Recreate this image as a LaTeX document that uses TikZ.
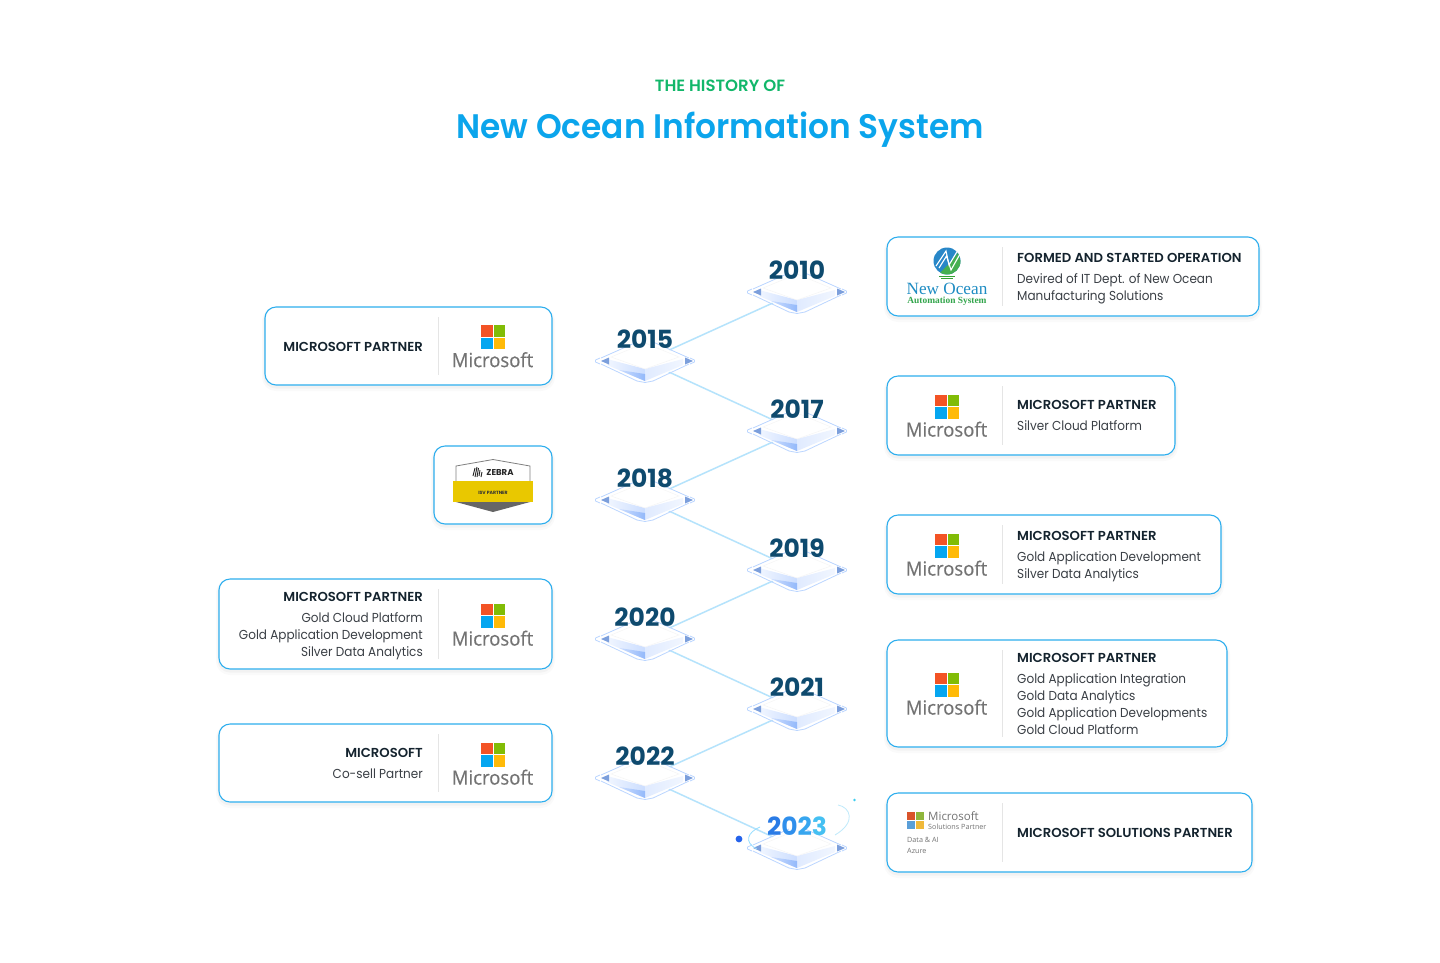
\documentclass[tikz,border=0pt]{standalone}
\usepackage{fontspec}
\setmainfont{Poppins}
\newfontfamily\bodyfont[FakeStretch=.925]{Poppins}
\newfontfamily\semifont[FakeStretch=1.015]{Poppins SemiBold}
\newfontfamily\titlefont[FakeStretch=.965]{Poppins SemiBold}
\newfontfamily\msfont[FakeStretch=.95,FakeBold=.45]{Open Sans}
\newfontfamily\smallms{Open Sans}
\newfontfamily\nofont{Liberation Serif}
\usetikzlibrary{shapes.geometric}
\definecolor{cardline}{HTML}{2DAEEE}
\definecolor{headink}{HTML}{14232E}
\definecolor{bodyink}{HTML}{3A3F45}
\definecolor{yearink}{HTML}{0E4A6E}
\definecolor{linkblue}{HTML}{B5E3FC}
\definecolor{ringblue}{HTML}{BBD6FF}
\definecolor{slabdark}{HTML}{94B9FA}
\definecolor{slabmid}{HTML}{CBDDFF}
\definecolor{slablight}{HTML}{F1F6FF}
\definecolor{arrowblue}{HTML}{7C9FDC}
\definecolor{titleblue}{HTML}{0BA5EC}
\definecolor{titlegreen}{HTML}{12B76A}
\definecolor{msgray}{HTML}{737373}
\tikzset{
  x=1pt,y=-1pt,
  cardbox/.style={rectangle,rounded corners=11pt,draw=cardline,line width=1.1pt,fill=white,inner sep=0pt,
    preaction={draw=black!60,draw opacity=.03,line width=6pt,fill=none,transform canvas={yshift=-3pt}},
    preaction={draw=black!60,draw opacity=.05,line width=3pt,fill=none,transform canvas={yshift=-2pt}}},
  headtext/.style={font=\semifont\fontsize{13}{16}\selectfont,text=headink,inner sep=0pt},
  bodytext/.style={font=\bodyfont\fontsize{13}{17}\selectfont,text=bodyink,inner sep=0pt},
  yeartext/.style={font=\fontsize{25}{25}\selectfont\bfseries,text=yearink,inner sep=0pt},
  stopmark/.style={diamond,aspect=2.33,minimum width=98pt,minimum height=42pt,inner sep=0pt},
  link/.style={draw=linkblue,line width=1.5pt},
  divider/.style={draw=black!10,line width=0.6pt},
  mstext/.style={font=\msfont\fontsize{19.5}{19.5}\selectfont,text=msgray,inner sep=0pt},
}
\newcommand{\slab}[1]{%
  \begin{scope}[shift={(#1)}]
    \fill[white] (-50,0)--(0,-21)--(50,0)--(0,21)--cycle;
    \draw[ringblue,line width=.8pt] (-44,-3)--(-8,-19) (8,-19)--(44,-3) (44,3)--(8,20) (-8,20)--(-44,3);
    \draw[ringblue,line width=.8pt] (-49.5,-1)--(-45,-3) (-49.5,1)--(-45,3) (49.5,-1)--(45,-3) (49.5,1)--(45,3) (-49.5,-1)--(-49.5,1) (49.5,-1)--(49.5,1)
      (-8,20)--(0,21.5)--(8,20);
    \shade[left color=slablight,right color=slabmid] (-38,-2)--(0,8)--(0,20)--(-38,4)--cycle;
    \shade[left color=slabmid!60!white,right color=slablight] (0,8)--(38,-2)--(38,4)--(0,20)--cycle;
    \shade[left color=slabmid,right color=slabdark] (-26,9)--(0,13)--(0,20)--cycle;
    \draw[black!4,line width=.5pt] (-34,-4)--(0,-18)--(34,-4)--(0,8)--cycle;
    \fill[arrowblue] (-44,0)--(-36,-3.5)--(-36,3.5)--cycle;
    \fill[arrowblue] (48,0)--(40,-3.5)--(40,3.5)--cycle;
  \end{scope}}
\newcommand{\msbig}[2]{%
  \begin{scope}[shift={(#1,#2)}]
    \fill[fill={rgb,255:red,243;green,83;blue,37}] (-12,-21.5) rectangle (-0.5,-10);
    \fill[fill={rgb,255:red,129;green,188;blue,6}] (0.5,-21.5) rectangle (12,-10);
    \fill[fill={rgb,255:red,5;green,166;blue,240}] (-12,-9) rectangle (-0.5,2.5);
    \fill[fill={rgb,255:red,255;green,186;blue,8}] (0.5,-9) rectangle (12,2.5);
    \node[mstext] at (-0.5,13.2) {Microsoft};
  \end{scope}}
\begin{document}
\begin{tikzpicture}
\useasboundingbox[fill=white] (0,0) rectangle (1440,962);
% title
\node[font=\semifont\fontsize{16.3}{16.3}\selectfont,text=titlegreen,inner sep=0pt] (kicker) at (720,86) {THE HISTORY OF};
\node[font=\titlefont\fontsize{34}{34}\selectfont,text=titleblue,inner sep=0pt] (title) at (720,130) {New Ocean Information System};
% stops
\node[stopmark] (s10) at (797,292) {};
\node[stopmark] (s15) at (645,361) {};
\node[stopmark] (s17) at (797,431) {};
\node[stopmark] (s18) at (645,500) {};
\node[stopmark] (s19) at (797,570) {};
\node[stopmark] (s20) at (645,639) {};
\node[stopmark] (s21) at (797,709) {};
\node[stopmark] (s22) at (645,778) {};
\node[stopmark] (s23) at (797,848) {};
\draw[link] (s10)--(s15);
\draw[link] (s15)--(s17);
\draw[link] (s17)--(s18);
\draw[link] (s18)--(s19);
\draw[link] (s19)--(s20);
\draw[link] (s20)--(s21);
\draw[link] (s21)--(s22);
\draw[link] (s22)--(s23);
\foreach \s in {s10,s15,s17,s18,s19,s20,s21,s22,s23} {\slab{\s}}
% years
\node[yeartext] (y10) at (797,270) {2010};
\node[yeartext] (y15) at (645,339) {2015};
\node[yeartext] (y17) at (797,409) {2017};
\node[yeartext] (y18) at (645,478) {2018};
\node[yeartext] (y19) at (797,548) {2019};
\node[yeartext] (y20) at (645,617) {2020};
\node[yeartext] (y21) at (797,687) {2021};
\node[yeartext] (y22) at (645,756) {2022};
\node[yeartext] (y23) at (797,826) {\textcolor[HTML]{2A7BE6}{2}\textcolor[HTML]{2F8FEC}{0}\textcolor[HTML]{37A6EF}{2}\textcolor[HTML]{45C0F2}{3}};
% 2023 decoration
\fill[fill={rgb,255:red,37;green,99;blue,235}] (739,839) circle (3.4);
\fill[fill={rgb,255:red,60;green,205;blue,240}] (854.5,800) circle (1.4);
\draw[draw=ringblue!80!cyan,line width=.8pt] (760,827) .. controls (748,832) and (743,842) .. (757,849);
\draw[draw=cyan!25,line width=.8pt] (838,805) .. controls (850,807) and (857,822) .. (835,835);
% right cards
\node[cardbox,minimum width=372pt,minimum height=79pt] (c10) at (1073,276.5) {};
\node[cardbox,minimum width=288pt,minimum height=79pt] (c17) at (1031,415.5) {};
\node[cardbox,minimum width=334pt,minimum height=79pt] (c19) at (1054,554.5) {};
\node[cardbox,minimum width=340pt,minimum height=107pt] (c21) at (1057,693.5) {};
\node[cardbox,minimum width=365pt,minimum height=79pt] (c23) at (1069.5,832.5) {};
% left cards
\node[cardbox,minimum width=287pt,minimum height=78pt] (c15) at (408.5,346) {};
\node[cardbox,minimum width=118pt,minimum height=78pt] (c18) at (493,485) {};
\node[cardbox,minimum width=333pt,minimum height=90pt] (c20) at (385.5,624) {};
\node[cardbox,minimum width=333pt,minimum height=78pt] (c22) at (385.5,763) {};
% dividers
\draw[divider] (1002.5,247)--(1002.5,306) (1002.5,386)--(1002.5,445) (1002.5,525)--(1002.5,584) (1002.5,650)--(1002.5,737) (1002.5,803)--(1002.5,862);
\draw[divider] (438.5,317)--(438.5,375) (438.5,589)--(438.5,659) (438.5,734)--(438.5,792);
% right card text
\node[headtext,anchor=base west] (t10a) at (1017,262.5) {FORMED AND STARTED OPERATION};
\node[bodytext,anchor=base west] (t10b) at (1017,283.5) {Devired of IT Dept. of New Ocean};
\node[bodytext,anchor=base west] (t10c) at (1017,300.5) {Manufacturing Solutions};
\node[headtext,anchor=base west] (t17a) at (1017,409.5) {MICROSOFT PARTNER};
\node[bodytext,anchor=base west] (t17b) at (1017,430.5) {Silver Cloud Platform};
\node[headtext,anchor=base west] (t19a) at (1017,540.5) {MICROSOFT PARTNER};
\node[bodytext,anchor=base west] (t19b) at (1017,561.5) {Gold Application Development};
\node[bodytext,anchor=base west] (t19c) at (1017,578.5) {Silver Data Analytics};
\node[headtext,anchor=base west] (t21a) at (1017,662.5) {MICROSOFT PARTNER};
\node[bodytext,anchor=base west] (t21b) at (1017,683.5) {Gold Application Integration};
\node[bodytext,anchor=base west] (t21c) at (1017,700.5) {Gold Data Analytics};
\node[bodytext,anchor=base west] (t21d) at (1017,717.5) {Gold Application Developments};
\node[bodytext,anchor=base west] (t21e) at (1017,734.5) {Gold Cloud Platform};
\node[headtext,anchor=base west] (t23a) at (1017,837.5) {MICROSOFT SOLUTIONS PARTNER};
% left card text
\node[headtext,anchor=base east] (t15a) at (423,351.5) {MICROSOFT PARTNER};
\node[headtext,anchor=base east] (t20a) at (423,601.5) {MICROSOFT PARTNER};
\node[bodytext,anchor=base east] (t20b) at (423,622.5) {Gold Cloud Platform};
\node[bodytext,anchor=base east] (t20c) at (423,639.5) {Gold Application Development};
\node[bodytext,anchor=base east] (t20d) at (423,656.5) {Silver Data Analytics};
\node[headtext,anchor=base east] (t22a) at (423,757.5) {MICROSOFT};
\node[bodytext,anchor=base east] (t22b) at (423,778.5) {Co-sell Partner};
% microsoft logos
\msbig{947}{416}
\msbig{947}{555}
\msbig{947}{694}
\msbig{493}{346.5}
\msbig{493}{625}
\msbig{493}{764}
% new ocean logo
\fill[fill={rgb,255:red,40;green,135;blue,200}] (947,261) circle (13.5);
\fill[fill={rgb,255:red,70;green,175;blue,80}] (958,253) -- (960.5,261) arc (0:120:13.5) -- (951,262)--cycle;
\draw[white,line width=1.1pt] (936,266)--(946,251)--(949,265)--(958,250);
\draw[white,line width=1.1pt] (939,268)--(946.5,256)--(951,270)--(960,254);
\draw[green!55!black!80,line width=.7pt] (939,276)--(955,276) (941,278)--(953,278);
\node[font=\nofont\fontsize{17.2}{17.2}\selectfont,text={rgb,255:red,30;green,140;blue,195},inner sep=0pt,anchor=base] (nolg) at (947,294) {New Ocean};
\node[font=\nofont\fontsize{9.4}{9.4}\selectfont\bfseries,text={rgb,255:red,50;green,165;blue,75},inner sep=0pt,anchor=base] (nolh) at (947,303.5) {Automation System};
% zebra badge
\draw[draw=black!50,line width=.8pt,fill=white] (456,482)--(456,466)--(493,459.5)--(530,466)--(530,482)--cycle;
\fill[fill={rgb,255:red,233;green,200;blue,0}] (453,481) rectangle (533,502);
\fill[fill=black!60] (456,502)--(530,502)--(493,512)--cycle;
\node[font=\fontsize{8.5}{8.5}\selectfont\bfseries,text=black!85,inner sep=0pt] (zb) at (500,473) {ZEBRA};
\draw[black!85,line width=.9pt] (473,476)--(475,468) (475,477)--(477,467) (477,477)--(478.5,468) (479,476)--(480,470) (481,477)--(482,472);
\node[font=\fontsize{4.6}{4.6}\selectfont\bfseries,text=black!80,inner sep=0pt] (zc) at (493,492.5) {ISV PARTNER};
% solutions partner logo
\fill[fill={rgb,255:red,217;green,84;blue,43}] (907,812) rectangle (915,820);
\fill[fill={rgb,255:red,143;green,182;blue,60}] (916,812) rectangle (924,820);
\fill[fill={rgb,255:red,90;green,159;blue,216}] (907,821) rectangle (915,829);
\fill[fill={rgb,255:red,240;green,185;blue,58}] (916,821) rectangle (924,829);
\node[font=\smallms\fontsize{11.5}{11.5}\selectfont,text=msgray,inner sep=0pt,anchor=west] (sp1) at (928,816.5) {Microsoft};
\node[font=\smallms\fontsize{7.2}{7.2}\selectfont,text=msgray,inner sep=0pt,anchor=west] (sp2) at (928,826.5) {Solutions Partner};
\node[font=\smallms\fontsize{7.2}{7.2}\selectfont,text=msgray,inner sep=0pt,anchor=west] (sp3) at (907,840) {Data \& AI};
\node[font=\smallms\fontsize{7.2}{7.2}\selectfont,text=msgray,inner sep=0pt,anchor=west] (sp4) at (907,851) {Azure};
\end{tikzpicture}
\end{document}
